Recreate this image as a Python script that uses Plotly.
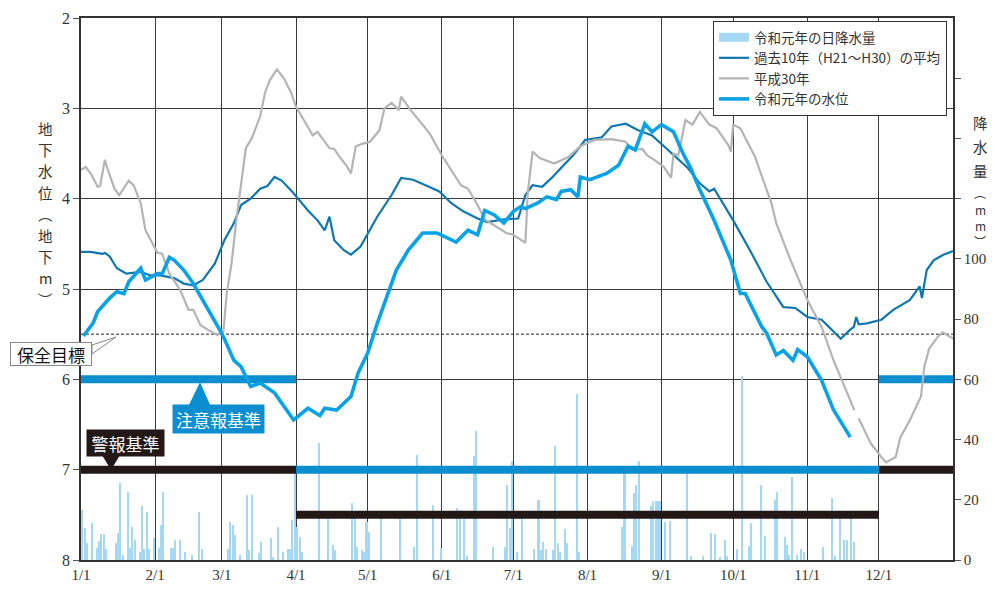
import datetime
import plotly.graph_objects as go

# ---------------- data ----------------
YEAR = 2019
base = datetime.date(YEAR, 1, 1)
month_start_days = [(datetime.date(YEAR, m, 1) - base).days for m in range(1, 13)]
month_labels = [f"{m}/1" for m in range(1, 13)]
year_days = 365

# 令和元年の水位 (day of year from 1/1 = 0, level in m below ground)
r1_day = [1, 5, 7, 12, 15, 18, 20, 24, 25, 27,
          32, 34, 37, 39, 43, 47, 51, 55, 58, 60,
          64, 67, 71, 75, 81, 89, 95, 100, 102, 107,
          113, 116, 120, 124, 129, 132, 137, 143, 149, 157,
          162, 166, 169, 173, 177, 181, 184, 186, 191, 195,
          199, 201, 205, 208, 209, 213, 220, 225, 229, 232,
          236, 239, 243, 248, 252, 255, 259, 265, 272, 276,
          278, 285, 287, 291, 294, 298, 300, 304, 310, 315,
          322]
r1_lvl = [5.52, 5.38, 5.25, 5.10, 5.03, 5.05, 4.92, 4.79, 4.77, 4.90,
          4.83, 4.83, 4.65, 4.68, 4.79, 4.94, 5.12, 5.31, 5.45, 5.55,
          5.79, 5.86, 6.08, 6.04, 6.15, 6.45, 6.32, 6.40, 6.32, 6.34,
          6.19, 5.93, 5.71, 5.38, 5.01, 4.79, 4.57, 4.38, 4.38, 4.48,
          4.35, 4.40, 4.13, 4.18, 4.27, 4.14, 4.09, 4.11, 4.05, 3.98,
          4.01, 3.92, 3.90, 3.98, 3.76, 3.79, 3.72, 3.63, 3.42, 3.46,
          3.17, 3.26, 3.18, 3.26, 3.50, 3.65, 3.90, 4.24, 4.68, 5.05,
          5.05, 5.42, 5.49, 5.73, 5.68, 5.79, 5.67, 5.75, 6.01, 6.34,
          6.64]

# 過去10年（H21～H30）の平均
avg_day = [0, 4, 9, 10, 12, 15, 19, 25, 29, 33,
           39, 43, 47, 51, 56, 60, 64, 67, 71, 75,
           78, 81, 84, 89, 95, 99, 102, 104, 106, 110,
           113, 117, 124, 130, 134, 139, 144, 150, 155, 160,
           166, 170, 177, 183, 186, 189, 193, 197, 202, 206,
           211, 218, 222, 228, 233, 239, 244, 250, 254, 259,
           263, 265, 273, 280, 287, 294, 299, 304, 310, 315,
           318, 322, 323.5, 324.5, 325.5, 329, 335, 340, 347, 351,
           352, 354, 357, 361, 365]
avg_lvl = [4.59, 4.59, 4.61, 4.60, 4.64, 4.77, 4.83, 4.81, 4.85, 4.85,
           4.88, 4.94, 4.96, 4.90, 4.72, 4.46, 4.27, 4.07, 4.00, 3.89,
           3.86, 3.76, 3.80, 3.94, 4.13, 4.24, 4.35, 4.20, 4.46, 4.57,
           4.62, 4.53, 4.20, 3.96, 3.77, 3.79, 3.85, 3.92, 4.05, 4.14,
           4.22, 4.26, 4.23, 4.22, 3.96, 3.85, 3.87, 3.77, 3.63, 3.52,
           3.35, 3.32, 3.20, 3.17, 3.24, 3.30, 3.42, 3.57, 3.66, 3.83,
           3.92, 3.89, 4.24, 4.57, 4.92, 5.20, 5.21, 5.31, 5.34, 5.47,
           5.55, 5.45, 5.42, 5.31, 5.39, 5.38, 5.34, 5.23, 5.12, 4.97,
           5.10, 4.79, 4.68, 4.62, 4.58]

# 平成30年 (None = gap in record)
h30_day = [0, 2, 4.5, 7, 8, 10, 11, 14, 16, 20,
           22, 25, 27, 30, 32, 34, 37, 41.5, 45, 47,
           50, 53, 57, 59.6, 61, 63, 65, 69, 71.5, 75,
           77, 79, 82, 85, 88, 90, 95, 97, 99, 102,
           104, 106, 108, 111, 113, 115, 118, 121, 125, 127,
           130, 133, 134, 138, 143, 146, 151, 155, 159, 162,
           166, 169, 174, 178, 181, 186, 187, 189, 192, 198,
           204, 209, 215, 222, 228, 231, 235, 237, 240, 244,
           247, 248, 250, 253, 256, 259, 263, 266, 271, 272,
           273, 276, 282, 289, 291, 297, 304, 310, 315, 323.7,
           None, 325.5, 330.6, 335, 337, 341, 343, 347, 351.6, 353,
           355, 358.6, 360.7, 365]
h30_lvl = [3.68, 3.65, 3.74, 3.87, 3.86, 3.57, 3.66, 3.89, 3.96, 3.80,
           3.85, 4.05, 4.35, 4.51, 4.60, 4.61, 4.83, 5.01, 5.23, 5.23,
           5.40, 5.45, 5.51, 5.47, 5.05, 4.72, 4.24, 3.44, 3.33, 3.09,
           2.83, 2.69, 2.57, 2.67, 2.83, 2.98, 3.20, 3.30, 3.26, 3.37,
           3.44, 3.45, 3.53, 3.63, 3.72, 3.42, 3.39, 3.37, 3.24, 3.00,
           2.94, 3.02, 2.87, 3.02, 3.18, 3.28, 3.52, 3.68, 3.85, 3.89,
           4.07, 4.23, 4.31, 4.38, 4.40, 4.49, 3.94, 3.48, 3.55, 3.61,
           3.54, 3.42, 3.35, 3.34, 3.37, 3.46, 3.45, 3.52, 3.57, 3.65,
           3.77, 3.50, 3.52, 3.13, 3.18, 3.04, 3.18, 3.22, 3.41, 3.48,
           3.18, 3.22, 3.53, 4.05, 4.27, 4.68, 5.12, 5.42, 5.79, 6.34,
           None, 6.43, 6.71, 6.86, 6.92, 6.86, 6.64, 6.45, 6.19, 5.86,
           5.66, 5.53, 5.48, 5.55]

# 令和元年の日降水量 (day index from 1/1 = 0, mm)
rain_day = [0, 1, 2, 4, 6, 7, 8, 9, 10, 14,
            15, 16, 17, 19, 20, 21, 22, 24, 25, 26,
            27, 28, 30, 32, 33, 34, 37, 38, 39, 41,
            43, 46, 49, 50, 61, 62, 63, 64, 66, 69,
            70, 71, 74, 75, 79, 80, 82, 84, 86, 87,
            88, 89, 90, 91, 92, 99, 103, 105, 106, 113,
            114, 115, 117, 118, 119, 120, 125, 133, 139, 140,
            147, 150, 157, 158, 160, 161, 164, 165, 172, 177,
            178, 179, 180, 182, 184, 189, 191, 192, 193, 194,
            197, 198, 199, 200, 202, 203, 207, 208, 226, 227,
            230, 231, 232, 233, 238, 239, 240, 241, 242, 244,
            246, 253, 255, 260, 263, 265, 267, 269, 270, 274,
            276, 279, 280, 284, 286, 290, 291, 294, 295, 296,
            297, 299, 301, 302, 310, 314, 315, 317, 319, 320,
            322, 323]
rain_mm = [16.6, 10.5, 5.5, 12.2, 3.9, 6.2, 8.6, 8.6, 3.5, 5.5,
           9.1, 25.5, 1.7, 22.7, 3.9, 11.1, 6.6, 2.8, 18.0, 3.5,
           16.1, 3.5, 7.2, 3.9, 11.6, 22.7, 3.9, 3.9, 6.6, 6.6,
           2.8, 1.7, 16.1, 3.5, 3.5, 12.7, 11.6, 8.3, 1.7, 21.6,
           3.3, 21.6, 2.2, 6.1, 7.2, 0.9, 11.1, 2.8, 3.5, 3.5,
           13.3, 31, 11.1, 7.8, 2.8, 39, 14.4, 5.0, 3.3, 18.8,
           14.4, 4.4, 3.3, 2.8, 12.7, 9.4, 14.4, 14.4, 4.4, 35,
           18.3, 3.9, 17.2, 16.6, 14.4, 1.3, 34.5, 43, 4.2, 4.4,
           24.9, 10.5, 33, 2.8, 13.8, 3.5, 19.9, 3.3, 6.1, 3.5,
           3.3, 38, 5.8, 2.8, 10.2, 5.5, 55, 2.8, 11.1, 31,
           4.7, 22.1, 24.9, 33, 17.9, 19.6, 19.6, 19.6, 19.6, 12.7,
           13.1, 31, 1.3, 1.3, 9.1, 8.6, 1.1, 6.6, 1.3, 3.5,
           61, 4.7, 12.2, 24.9, 8.0, 19.9, 22.5, 7.5, 5.0, 1.7,
           27.7, 1.7, 3.5, 2.8, 4.2, 20.5, 1.3, 13.8, 6.6, 6.6,
           13.8, 6.1]

# 基準値 (periods: 1/1-4/1, 4/1-12/1, 12/1-12/31)
period_bounds = [0, month_start_days[3], month_start_days[11], year_days]
caution_levels = [6.0, 7.0, 6.0]   # 注意報基準
warning_levels = [7.0, 7.5, 7.0]   # 警報基準
target_level = 5.5                 # 保全目標

level_ticks = [2, 3, 4, 5, 6, 7, 8]
rain_ticks = [0, 20, 40, 60, 80, 100, 120, 140, 160]
rain_labels = [str(v) if v <= 100 else "" for v in rain_ticks]

# ---------------- styling ----------------
C_R1 = "#0aa2e6"
C_AVG = "#0f77ae"
C_H30 = "#b4b4b4"
C_CAUTION = "#0a8ecf"
C_WARN = "#231815"
C_RAIN = "#a5d8f4"
GRID = "#3c3c3c"
JP = "Noto Sans CJK JP"
SERIF = "Liberation Serif"

# the page body has an 8px margin; plot area in screen pixels: x 81..953, y 18..560
OFF = 8
W, H = 995 - 2 * OFF, 593 - 2 * OFF
X0, X1, Y0, Y1 = 81, 953, 18, 560
L, T = X0 - OFF, Y0 - OFF
R, B = W - (X1 - OFF), H - (Y1 - OFF)
PW, PH = X1 - X0, Y1 - Y0


def px(xp):
    return (xp - X0) / PW


def py(yp):
    return 1 - (yp - Y0) / PH


def segments(levels):
    xs, ys = [], []
    for i, lv in enumerate(levels):
        xs += [period_bounds[i], period_bounds[i + 1], None]
        ys += [lv, lv, None]
    return xs, ys


def label(xp, yp, text, **kw):
    fig.add_annotation(x=px(xp), y=py(yp), xref="paper", yref="paper", text=text,
                       showarrow=False, xanchor="center", yanchor="middle", **kw)


fig = go.Figure()

fig.add_trace(go.Bar(
    x=[d + 0.5 for d in rain_day], y=rain_mm, name="令和元年の日降水量",
    marker=dict(color=C_RAIN, line=dict(width=0)), width=0.85, yaxis="y",
    showlegend=False,
))
# legend swatch for rainfall (wide rectangle like the reference)
fig.add_trace(go.Scatter(x=[None], y=[None], mode="lines", yaxis="y2",
                         name="令和元年の日降水量",
                         line=dict(color=C_RAIN, width=9)))

wx, wy = segments(warning_levels)
fig.add_trace(go.Scatter(x=wx, y=wy, mode="lines", yaxis="y2", showlegend=False,
                         line=dict(color=C_WARN, width=8), hoverinfo="skip"))
cx, cy = segments(caution_levels)
fig.add_trace(go.Scatter(x=cx, y=cy, mode="lines", yaxis="y2", showlegend=False,
                         line=dict(color=C_CAUTION, width=8), hoverinfo="skip"))
fig.add_trace(go.Scatter(x=[0, year_days], y=[target_level, target_level], mode="lines",
                         yaxis="y2", showlegend=False,
                         line=dict(color="#222", width=1, dash="3px,2px"), hoverinfo="skip"))

fig.add_trace(go.Scatter(x=avg_day, y=avg_lvl, mode="lines", yaxis="y2",
                         name="過去10年（H21～H30）の平均",
                         line=dict(color=C_AVG, width=2.2)))
fig.add_trace(go.Scatter(x=h30_day, y=h30_lvl, mode="lines", yaxis="y2",
                         name="平成30年", connectgaps=False,
                         line=dict(color=C_H30, width=2.2)))
fig.add_trace(go.Scatter(x=r1_day, y=r1_lvl, mode="lines", yaxis="y2",
                         name="令和元年の水位",
                         line=dict(color=C_R1, width=3.6)))

tickfont = dict(family=SERIF, size=15, color="#333")

fig.update_layout(
    width=W, height=H,
    margin=dict(l=L, r=R, t=T, b=B, autoexpand=False),
    paper_bgcolor="white", plot_bgcolor="white",
    bargap=0,
    showlegend=True,
    legend=dict(x=px(713), y=py(21), xanchor="left", yanchor="top",
                bgcolor="white", bordercolor="#333", borderwidth=1,
                font=dict(family=JP, size=13.5, color="#333"),
                itemwidth=30, tracegroupgap=0),
    xaxis=dict(range=[0, year_days], tickmode="array", tickvals=month_start_days,
               ticktext=month_labels, showgrid=True, gridcolor=GRID, gridwidth=1,
               showline=True, linecolor="#333", linewidth=1.5, mirror=True,
               ticks="", zeroline=False, tickfont=tickfont, anchor="y"),
    yaxis=dict(range=[0, 180], side="right", tickmode="array", tickvals=rain_ticks,
               ticktext=rain_labels, showgrid=False, zeroline=False,
               ticks="outside", ticklen=6, tickcolor="#555",
               showline=True, linecolor="#333", linewidth=1.5,
               tickfont=tickfont),
    yaxis2=dict(range=[8, 2], overlaying="y", side="left", tickmode="array",
                tickvals=level_ticks, showgrid=True, gridcolor=GRID, gridwidth=1,
                zeroline=False, ticks="outside", ticklen=6, tickcolor="#555",
                showline=True, linecolor="#333", linewidth=1.5,
                tickfont=dict(family=SERIF, size=16, color="#333")),
)

# vertical axis titles (stacked characters)
left_title = ["地", "下", "水", "位", "︵", "地", "下", "m", "︶"]
for i, ch in enumerate(left_title):
    label(45, 128 + i * 21.4, ch, borderpad=0,
          font=dict(family=JP, size=14.5, color="#333"))
right_title = ["降", "水", "量", "︵", "m", "m", "︶"]
right_pos = [122, 146, 170, 192, 209, 225, 242]
right_size = [14.5, 14.5, 14.5, 12, 12, 12, 12]
for ch, yp, fs in zip(right_title, right_pos, right_size):
    label(980, yp, ch, borderpad=0, font=dict(family=JP, size=fs, color="#333"))

# 保全目標 label with callout
fig.add_shape(type="path", xref="paper", yref="paper",
              path=f"M {px(92)},{py(345)} L {px(116)},{py(337)} L {px(92)},{py(354)} Z",
              fillcolor="white", line=dict(color="#888", width=1), layer="above")
label(51, 354, "保全目標", width=78, height=20, bgcolor="white",
      bordercolor="#888", borderwidth=1, borderpad=1,
      font=dict(family=JP, size=17, color="#111"))

# 注意報基準 label
fig.add_shape(type="path", xref="paper", yref="paper",
              path=f"M {px(188)},{py(407)} L {px(200)},{py(382)} L {px(211)},{py(407)} Z",
              fillcolor=C_CAUTION, line=dict(width=0), layer="above")
label(218, 419, "注意報基準", width=89, height=26, bgcolor=C_CAUTION, borderpad=1,
      font=dict(family=JP, size=17, color="white"))

# 警報基準 label
fig.add_shape(type="path", xref="paper", yref="paper",
              path=f"M {px(102)},{py(455)} L {px(111)},{py(470)} L {px(120)},{py(455)} Z",
              fillcolor=C_WARN, line=dict(width=0), layer="above")
label(125, 443, "警報基準", width=75, height=24, bgcolor=C_WARN, borderpad=1,
      font=dict(family=JP, size=17, color="white"))

fig.write_html("out.html")
